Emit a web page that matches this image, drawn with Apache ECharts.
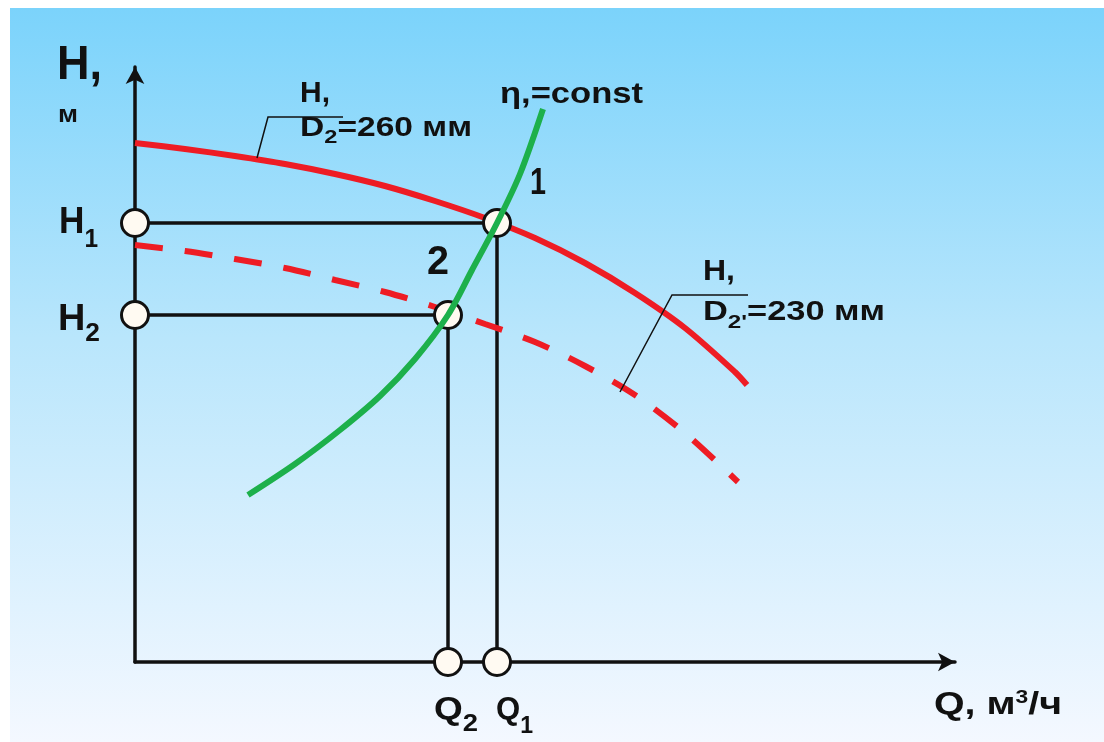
<!DOCTYPE html>
<html>
<head>
<meta charset="utf-8">
<script src="https://cdn.jsdelivr.net/npm/echarts@6/dist/echarts.min.js"></script>
<style>
  html, body { margin: 0; padding: 0; background: #ffffff; }
  #panel {
    position: absolute; left: 10px; top: 8px; width: 1094px; height: 734px;
    background: linear-gradient(to bottom, #7bd3fb 0%, #b9e6fc 45%, #f4f8ff 100%);
  }
  #chart { position: absolute; left: 0; top: 0; width: 1104px; height: 742px; }
</style>
</head>
<body>
<div id="panel"></div>
<div id="chart"></div>
<script>
// Pump characteristics in plot units: Q (flow) along x, H (head) along y.
const headD260 = [
  [0, 519], [50, 513], [100, 506], [150, 498], [200, 488], [250, 476], [300, 461],
  [350, 444], [400, 424], [450, 399], [500, 369], [550, 334], [600, 290], [612, 277]
];
const headD230 = [
  [0, 417], [50, 411], [100, 403], [150, 394], [200, 382], [250, 370], [300, 355],
  [350, 338], [400, 320], [450, 296], [500, 267], [550, 229], [603, 180]
];
const efficiencyConst = [
  [113, 167], [160, 198], [205, 232], [245, 266], [280, 303], [313, 347],
  [337, 392], [362, 439], [385, 488], [408, 553]
];
// Operating points on the two impeller curves
const point1 = [362, 439];
const point2 = [313, 347];
const axisMaxQ = 820;
const axisMaxH = 595;

const FONT = '"Liberation Sans", Arial, Helvetica, sans-serif';
const INK = '#111111';
const measure = document.createElement('canvas').getContext('2d');
function textWidth(str, size) {
  measure.font = 'bold ' + size + 'px ' + FONT;
  return measure.measureText(str).width;
}
// Bold caption made of pieces [text, size, dy]; stretched to the given width.
function caption(x, y, parts, width) {
  let cx = 0;
  const children = [];
  parts.forEach(function (p) {
    children.push({
      type: 'text', x: cx, y: p[2] || 0,
      style: { text: p[0], font: 'bold ' + p[1] + 'px ' + FONT, fill: INK, verticalAlign: 'middle', align: 'left' }
    });
    cx += textWidth(p[0], p[1]);
  });
  return { type: 'group', x: x, y: y, scaleX: width ? width / cx : 1, children: children, z: 10 };
}
function leader(points) {
  return { type: 'polyline', shape: { points: points }, style: { stroke: INK, lineWidth: 1.5, fill: null }, z: 10 };
}

const chart = echarts.init(document.getElementById('chart'), null, { renderer: 'canvas' });

const circleStyle = { color: '#fffaf2', borderColor: INK, borderWidth: 3, opacity: 1 };

chart.setOption({
  animation: false,
  backgroundColor: 'transparent',
  grid: { left: 135, top: 67, width: 820, height: 595, containLabel: false, outerBoundsMode: 'none' },
  xAxis: {
    type: 'value', min: 0, max: axisMaxQ,
    axisLine: { show: true, symbol: ['none', 'arrow'], symbolSize: [14, 17], lineStyle: { color: INK, width: 3.5 } },
    axisTick: { show: false }, axisLabel: { show: false }, splitLine: { show: false }
  },
  yAxis: {
    type: 'value', min: 0, max: axisMaxH,
    axisLine: { show: true, symbol: ['none', 'arrow'], symbolSize: [14, 17], lineStyle: { color: INK, width: 3.5 } },
    axisTick: { show: false }, axisLabel: { show: false }, splitLine: { show: false }
  },
  series: [
    {
      type: 'line', data: [[0, point1[1]], point1, [point1[0], 0]],
      symbol: 'none', lineStyle: { color: INK, width: 3.5 }, z: 2
    },
    {
      type: 'line', data: [[0, point2[1]], point2, [point2[0], 0]],
      symbol: 'none', lineStyle: { color: INK, width: 3.5 }, z: 2
    },
    {
      type: 'line', data: headD260, smooth: 0.3, symbol: 'none',
      lineStyle: { color: '#ee1c24', width: 6, cap: 'butt' }, z: 3
    },
    {
      type: 'line', data: headD230, smooth: 0.3, symbol: 'none',
      lineStyle: { color: '#ee1c24', width: 6, type: [28, 22], cap: 'butt' }, z: 3
    },
    {
      type: 'scatter', symbol: 'circle', symbolSize: 27,
      itemStyle: circleStyle, z: 4,
      data: [[0, point1[1]], [0, point2[1]], [point1[0], 0], [point2[0], 0], point1, point2]
    },
    {
      type: 'line', data: efficiencyConst, smooth: 0.3, symbol: 'none',
      lineStyle: { color: '#1db04b', width: 6, cap: 'butt' }, z: 5
    }
  ],
  graphic: [
    caption(57, 66, [['H,', 48]], 45),
    caption(58, 115, [['м', 24]], 20),
    caption(59, 223, [['H', 36], ['1', 25, 17]], 39),
    caption(58, 320, [['H', 36], ['2', 25, 14]], 42),
    caption(434, 710, [['Q', 31], ['2', 23, 15]], 44),
    caption(496, 710, [['Q', 31], ['1', 23, 17]], 37),
    caption(934, 705, [['Q, м', 31], ['3', 18, -7], ['/ч', 31]], 128),
    caption(500, 95, [['η,=const', 30]], 143),
    caption(530, 184, [['1', 36]], 16),
    caption(427, 263, [['2', 40]], 22),
    caption(300, 94, [['H,', 30]], 30),
    caption(300, 129, [['D', 27], ['2', 19, 9], ['=260 мм', 27]], 172),
    caption(703, 272, [['H,', 30]], 32),
    caption(703, 313, [['D', 27], ["2'", 19, 10], ['=230 мм', 27]], 182),
    leader([[257, 158], [268, 117], [343, 117]]),
    leader([[620, 392], [672, 295], [748, 295]])
  ]
});
</script>
</body>
</html>
